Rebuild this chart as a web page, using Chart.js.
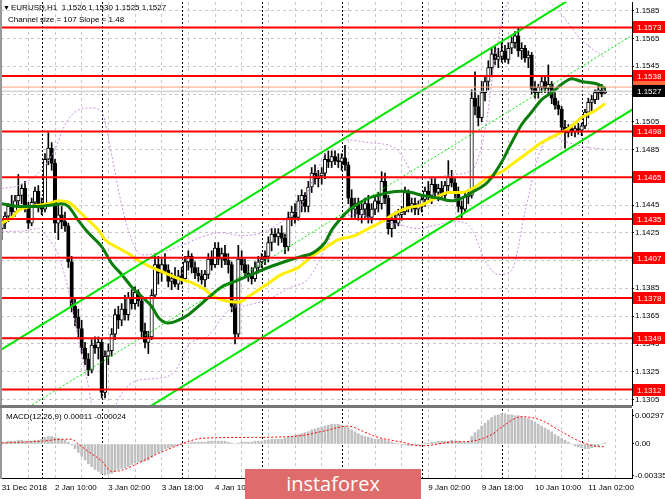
<!DOCTYPE html>
<html><head><meta charset="utf-8">
<script src="https://cdn.jsdelivr.net/npm/chart.js@4.4.1/dist/chart.umd.min.js"></script>
<style>
html,body{margin:0;padding:0;background:#fff;}
#wrap{position:relative;width:665px;height:499px;overflow:hidden;background:#fff;}
canvas{position:absolute;left:0;}
.t{position:absolute;font-family:"Liberation Sans",Arial,sans-serif;font-size:8px;line-height:10px;color:#000;white-space:pre;}
#logo{position:absolute;left:245px;top:469px;width:176px;height:30px;background:#df6b6b;color:#fff;font-family:"Open Sans",sans-serif;font-size:20px;line-height:30px;text-align:center;}
#lb{position:absolute;left:0;top:0;width:2px;height:479px;background:#999;}
#sep{position:absolute;left:0;top:405px;width:632px;height:3px;background:#777;}
</style></head><body>
<div id="wrap">
<canvas id="main" width="665" height="407" style="top:0"></canvas>
<canvas id="macd" width="665" height="92" style="top:407px"></canvas>
<div id="lb"></div>
<div id="sep"></div>
<div class="t" style="left:3px;top:3px;font-size:7px">▼</div>
<div class="t" style="left:11px;top:3px">EURUSD,H1  1.1526 1.1530 1.1525 1.1527</div>
<div class="t" style="left:8px;top:15px">Channel size = 107 Slope = 1.48</div>
<div class="t" style="left:6px;top:412px">MACD(12,26,9) 0.00011 -0.00024</div>
<div id="logo">instaforex</div>
</div>
<script>
// ---------- DATA ----------
const opens = [
1.1428,1.1432,1.1437,1.1444,1.1440,1.1448,1.1452,1.1457,1.1443,1.1432,1.1447,1.1455,
1.1446,1.1442,1.1478,1.1486,1.1475,1.1432,1.1438,1.1433,1.1430,1.1404,1.1372,1.1364,1.1356,1.1342,1.1334,1.1326,1.1344,1.1342,
1.1346,1.1310,1.1336,1.1340,1.1352,1.1366,1.1362,1.1370,1.1366,1.1378,1.1374,1.1382,1.1376,1.1354,1.1346,1.1350,1.1380,1.1402,1.1396,1.1402,1.1398,1.1390,1.1392,1.1388,
1.1394,1.1392,1.1404,1.1408,1.1400,1.1396,1.1394,1.1391,1.1395,1.1406,1.1402,1.1414,1.1406,1.1410,1.1405,1.1402,1.1372,1.1352,1.1406,1.1402,1.1396,1.1394,1.1392,1.1400,
1.1404,1.1406,1.1408,1.1418,1.1424,1.1422,1.1425,1.1421,1.1415,1.1436,1.1440,1.1436,1.1448,1.1452,1.1444,1.1458,1.1468,1.1464,1.1466,1.1468,1.1478,1.1476,1.1480,1.1477,
1.1476,1.1479,1.1474,1.1450,1.1442,1.1446,1.1438,1.1442,1.1446,1.1436,1.1442,1.1448,1.1446,1.1462,1.1450,1.1428,1.1434,1.1432,1.1438,1.1440,1.1454,1.1444,1.1446,1.1442,
1.1444,1.1449,1.1455,1.1452,1.1460,1.1454,1.1457,1.1452,1.1459,1.1465,1.1461,1.1455,1.1444,1.1442,1.1451,1.1452,1.1522,1.1516,1.1508,1.1526,1.1534,1.1544,1.1554,1.1550,
1.1552,1.1556,1.1550,1.1558,1.1562,1.1567,1.1556,1.1558,1.1551,1.1553,1.1529,1.1526,1.1530,1.1534,1.1529,1.1532,1.1522,1.1517,1.1514,1.1501,1.1497,1.1500,1.1498,1.1500,
1.1499,1.1502,1.1512,1.1519,1.1521,1.1526,1.1528,1.1526];
const highs = [
1.1434,1.1440,1.1446,1.1452,1.1452,1.1467,1.1460,1.1462,1.1447,1.1450,1.1458,1.1459,
1.1450,1.1482,1.1497,1.1490,1.1478,1.1445,1.1444,1.1440,1.1432,1.1408,1.1378,1.1370,1.1362,1.1346,1.1338,1.1348,1.1350,1.1350,
1.1348,1.1340,1.1345,1.1356,1.1370,1.1372,1.1374,1.1380,1.1382,1.1384,1.1386,1.1384,1.1378,1.1360,1.1354,1.1384,1.1410,1.1408,1.1406,1.1410,1.1402,1.1396,1.1400,1.1398,
1.1400,1.1408,1.1412,1.1410,1.1404,1.1400,1.1398,1.1398,1.1410,1.1412,1.1418,1.1418,1.1414,1.1416,1.1410,1.1404,1.1376,1.1416,1.1412,1.1406,1.1402,1.1400,1.1404,1.1408,
1.1410,1.1412,1.1422,1.1428,1.1428,1.1428,1.1430,1.1424,1.1440,1.1444,1.1446,1.1452,1.1456,1.1454,1.1462,1.1472,1.1474,1.1470,1.1472,1.1482,1.1484,1.1484,1.1484,1.1482,
1.1482,1.1488,1.1476,1.1456,1.1450,1.1450,1.1446,1.1450,1.1452,1.1446,1.1452,1.1454,1.1469,1.1468,1.1452,1.1438,1.1440,1.1442,1.1444,1.1458,1.1456,1.1450,1.1450,1.1448,
1.1452,1.1458,1.1462,1.1464,1.1464,1.1460,1.1462,1.1462,1.1477,1.1470,1.1464,1.1458,1.1448,1.1454,1.1456,1.1528,1.1541,1.1524,1.1534,1.1538,1.1549,1.1558,1.1560,1.1558,
1.1562,1.1560,1.1562,1.1566,1.1570,1.1573,1.1562,1.1560,1.1556,1.1555,1.1534,1.1532,1.1538,1.1538,1.1546,1.1534,1.1526,1.1520,1.1516,1.1506,1.1503,1.1503,1.1502,1.1504,
1.1504,1.1514,1.1522,1.1524,1.1528,1.1531,1.1532,1.1530];
const lows = [
1.1420,1.1428,1.1433,1.1436,1.1437,1.1444,1.1446,1.1440,1.1428,1.1430,1.1444,1.1440,
1.1438,1.1440,1.1474,1.1470,1.1425,1.1420,1.1428,1.1426,1.1400,1.1368,1.1358,1.1350,1.1338,1.1330,1.1322,1.1324,1.1338,1.1334,
1.1306,1.1306,1.1330,1.1336,1.1348,1.1356,1.1358,1.1362,1.1362,1.1370,1.1370,1.1372,1.1350,1.1342,1.1338,1.1348,1.1378,1.1388,1.1390,1.1396,1.1386,1.1384,1.1386,1.1384,
1.1388,1.1390,1.1398,1.1396,1.1392,1.1390,1.1388,1.1386,1.1392,1.1398,1.1400,1.1402,1.1400,1.1402,1.1396,1.1368,1.1345,1.1350,1.1398,1.1394,1.1390,1.1388,1.1390,1.1396,
1.1400,1.1402,1.1404,1.1412,1.1418,1.1416,1.1418,1.1410,1.1412,1.1430,1.1432,1.1434,1.1440,1.1440,1.1440,1.1454,1.1460,1.1458,1.1460,1.1464,1.1472,1.1472,1.1474,1.1472,
1.1470,1.1470,1.1446,1.1436,1.1436,1.1434,1.1432,1.1436,1.1432,1.1432,1.1438,1.1440,1.1442,1.1446,1.1424,1.1422,1.1428,1.1430,1.1434,1.1438,1.1440,1.1440,1.1438,1.1438,
1.1440,1.1444,1.1448,1.1446,1.1450,1.1448,1.1450,1.1448,1.1455,1.1458,1.1450,1.1440,1.1436,1.1440,1.1446,1.1450,1.1510,1.1502,1.1505,1.1520,1.1528,1.1538,1.1546,1.1544,
1.1548,1.1548,1.1547,1.1554,1.1558,1.1552,1.1550,1.1548,1.1544,1.1525,1.1522,1.1522,1.1526,1.1526,1.1524,1.1518,1.1514,1.1510,1.1498,1.1486,1.1494,1.1495,1.1494,1.1496,
1.1495,1.1500,1.1508,1.1512,1.1518,1.1521,1.1523,1.1525];
const closes = [
1.1432,1.1437,1.1444,1.1440,1.1448,1.1452,1.1457,1.1443,1.1432,1.1447,1.1455,1.1446,
1.1442,1.1478,1.1486,1.1475,1.1432,1.1438,1.1433,1.1430,1.1404,1.1372,1.1364,1.1356,1.1342,1.1334,1.1326,1.1344,1.1342,1.1346,
1.1310,1.1336,1.1340,1.1352,1.1366,1.1362,1.1370,1.1366,1.1378,1.1374,1.1382,1.1376,1.1354,1.1346,1.1350,1.1380,1.1402,1.1396,1.1402,1.1398,1.1390,1.1392,1.1388,1.1394,
1.1392,1.1404,1.1408,1.1400,1.1396,1.1394,1.1391,1.1395,1.1406,1.1402,1.1414,1.1406,1.1410,1.1405,1.1402,1.1372,1.1352,1.1406,1.1402,1.1396,1.1394,1.1392,1.1400,1.1404,
1.1406,1.1408,1.1418,1.1424,1.1422,1.1425,1.1421,1.1415,1.1436,1.1440,1.1436,1.1448,1.1452,1.1444,1.1458,1.1468,1.1464,1.1466,1.1468,1.1478,1.1476,1.1480,1.1477,1.1476,
1.1479,1.1474,1.1450,1.1442,1.1446,1.1438,1.1442,1.1446,1.1436,1.1442,1.1448,1.1446,1.1462,1.1450,1.1428,1.1434,1.1432,1.1438,1.1440,1.1454,1.1444,1.1446,1.1442,1.1444,
1.1449,1.1455,1.1452,1.1460,1.1454,1.1457,1.1452,1.1459,1.1465,1.1461,1.1455,1.1444,1.1442,1.1451,1.1452,1.1522,1.1516,1.1508,1.1526,1.1534,1.1544,1.1554,1.1550,1.1552,
1.1556,1.1550,1.1558,1.1562,1.1567,1.1556,1.1558,1.1551,1.1553,1.1529,1.1526,1.1530,1.1534,1.1529,1.1532,1.1522,1.1517,1.1514,1.1501,1.1497,1.1500,1.1498,1.1500,1.1499,
1.1502,1.1512,1.1519,1.1521,1.1526,1.1528,1.1525,1.1527];

// moving averages (sparse readings: bar index / value)
const fastMaBars = [0,5,11,15,18,20,23,26,30,33,36,39,42,45,47,50,52,56,60,66,70,75,80,86,90,93,97,99,102,104,107,110,113,116,120,123,126,131,135,138,141,146,150,153,156,159,162,165,168,171,174,179,181];
const fastMaVals = [1.1446,1.1444,1.1444,1.1445,1.1446,1.1444,1.1434,1.1425,1.1415,1.1403,1.1395,1.1386,1.1379,1.1372,1.1364,1.1360,1.1361,1.1366,1.1374,1.1386,1.1390,1.1395,1.1400,1.1405,1.1408,1.1410,1.1418,1.1427,1.1436,1.1441,1.1446,1.1450,1.1452,1.1454,1.1455,1.1454,1.1452,1.1450,1.1448,1.1450,1.1454,1.1462,1.1476,1.1490,1.1503,1.1512,1.1521,1.1526,1.1532,1.1536,1.1534,1.1532,1.1529];
const slowMaBars = [0,3,5,9,14,17,20,23,26,29,31,35,38,41,45,49,53,57,61,63,67,71,74,79,84,89,93,97,101,106,110,114,118,122,126,130,134,138,142,146,150,154,158,162,166,170,174,178,181];
const slowMaVals = [1.1432,1.1436,1.1441,1.1444,1.1446,1.1448,1.1447,1.1441,1.1434,1.1427,1.1420,1.1414,1.1410,1.1405,1.1400,1.1396,1.1392,1.1389,1.1384,1.1380,1.1376,1.1375,1.1379,1.1387,1.1395,1.1400,1.1408,1.1414,1.1420,1.1423,1.1428,1.1433,1.1439,1.1443,1.1445,1.1450,1.1454,1.1454,1.1458,1.1465,1.1469,1.1476,1.1483,1.1490,1.1495,1.1500,1.1508,1.1513,1.1518];
const upperBandBars = [0,5,11,16,19,22,27,30,33,36,39,42,48,54,60,66,72,78,84,90,94,98,103,110,118,121,124,129,135,141,145,148,151,156,162,168,174,181];
const upperBandVals = [1.1457,1.1459,1.1468,1.1485,1.1503,1.1512,1.1515,1.1512,1.1481,1.1445,1.1420,1.1409,1.1411,1.1416,1.1422,1.1425,1.1423,1.1425,1.1433,1.1445,1.1467,1.1485,1.1492,1.1490,1.1486,1.1477,1.1464,1.1464,1.1467,1.1470,1.1499,1.1550,1.1586,1.1600,1.1596,1.1582,1.1564,1.1551];
const lowerBandBars = [0,5,11,14,17,20,23,26,28,32,35,40,46,52,56,62,68,74,80,86,92,97,101,107,113,119,125,131,137,141,145,149,153,157,161,165,170,175,181];
const lowerBandVals = [1.1426,1.1426,1.1428,1.1421,1.1409,1.1384,1.1348,1.1315,1.1290,1.1287,1.1305,1.1318,1.1320,1.1325,1.1344,1.1351,1.1369,1.1373,1.1377,1.1385,1.1392,1.1413,1.1433,1.1438,1.1434,1.1431,1.1428,1.1431,1.1433,1.1428,1.1405,1.1395,1.1398,1.1440,1.1480,1.1495,1.1490,1.1487,1.1485];

// regression channel (endpoints: bar index / price)
const channelBars = [0,190];
const upperChannel = [1.1341,1.1622];
const midChannel = [1.12875,1.15685];
const lowerChannel = [1.1234,1.1515];

// horizontal levels
const levels = [1.1573,1.1538,1.1498,1.1465,1.1435,1.1407,1.1378,1.1349,1.1312];
const askPrice = 1.1530;
const bidPrice = 1.1527;

// MACD
const macdHist = [
0.0002,0.0002,0.0003,0.0003,0.0003,0.0004,0.0004,0.0003,0.0003,0.0003,0.0004,0.0004,
0.0005,0.0007,0.0008,0.0008,0.0007,0.0006,0.0005,0.0004,0.0002,
-0.0001,-0.0005,-0.0009,-0.0013,-0.0017,-0.0021,-0.0024,-0.0027,-0.0029,
-0.0032,-0.0033,-0.0032,-0.0031,-0.0029,-0.0027,-0.0026,-0.0025,-0.0024,-0.0022,
-0.0020,-0.0019,-0.0019,-0.0018,-0.0017,-0.0014,-0.0011,-0.0009,-0.0007,-0.0005,
-0.0004,-0.0003,-0.0002,-0.0001,0.0000,0.0001,0.0001,0.0002,0.0002,0.0002,
0.0002,0.0002,0.0003,0.0003,0.0003,0.0003,0.0003,0.0003,0.0002,0.0001,
0.0000,0.0001,0.0002,0.0002,0.0002,0.0002,0.0003,0.0003,0.0003,0.0004,
0.0004,0.0005,0.0005,0.0005,0.0005,0.0006,0.0007,0.0008,0.0009,0.0010,
0.0011,0.0012,0.0013,0.0015,0.0016,0.0017,0.0018,0.0019,0.0020,0.0021,0.0021,0.0021,
0.0020,0.0019,0.0017,0.0015,0.0013,0.0011,0.0009,0.0008,0.0007,0.0006,
0.0005,0.0005,0.0005,0.0004,0.0003,0.0002,0.0001,0.0000,-0.0001,-0.0001,-0.0002,-0.0002,-0.0001,-0.0001,
0.0000,0.0001,0.0001,0.0002,0.0002,0.0003,0.0003,0.0003,0.0003,0.0004,0.0003,0.0003,0.0002,0.0002,0.0003,
0.0008,0.0012,0.0015,0.0019,0.0022,0.0025,0.0028,0.0030,0.0031,0.0032,
0.0032,0.0031,0.0031,0.0030,0.0030,0.0029,0.0028,0.0027,0.0025,0.0023,
0.0021,0.0019,0.0017,0.0015,0.0013,0.0010,0.0008,0.0006,0.0004,0.0002,
0.0000,-0.0002,-0.0003,-0.0004,-0.0005,-0.0005,-0.0004,-0.0003,-0.0002,0.0000,0.00011];
const signalBars = [0,12,18,21,23,26,30,33,36,40,47,54,60,75,90,97,104,108,113,120,126,135,141,147,150,156,159,162,168,174,180,181];
const signalVals = [0.0001,0.0003,0.0005,0.0005,0.0000,-0.0008,-0.0018,-0.0029,-0.0028,-0.0022,-0.0010,0.0000,0.0006,0.0007,0.0009,0.0014,0.0019,0.0014,0.0007,0.0002,-0.0002,0.0002,0.0003,0.0010,0.0018,0.0029,0.0028,0.0025,0.0013,0.0002,-0.0003,-0.00024];

// axes
const yTicks = [1.1305,1.1325,1.1345,1.1365,1.1385,1.1405,1.1425,1.1445,1.1465,1.1485,1.1505,1.1525,1.1545,1.1565,1.1585];
const macdTicks = [0.00297,0,-0.00335];
const labelBars = [0,16,32,48,64,80,96,112,128,144,160,176];
const labelTexts = ['31 Dec 2018','2 Jan 10:00','3 Jan 02:00','3 Jan 18:00','4 Jan 10:00','7 Jan 02:00','7 Jan 18:00','8 Jan 10:00','9 Jan 02:00','9 Jan 18:00','10 Jan 10:00','11 Jan 02:00'];
const gridBars = [0,8,16,24,32,40,48,56,64,72,80,88,96,104,112,120,128,136,144,152,160,168,176,184];
const daySepBars = [12,30,54,78,102,126,150,174];

// ---------- CHARTS ----------
Chart.defaults.font.family = '"Liberation Sans", Arial, sans-serif';
Chart.defaults.font.size = 8;
Chart.defaults.color = '#000';
const X_MIN = -0.2, X_MAX = 189.1;
const pts = (bars, vals) => bars.map((b, i) => ({x: b, y: vals[i]}));

const sepPlugin = {
  id: 'daysep',
  beforeDatasetsDraw(chart) {
    const {ctx, chartArea: a, scales: {x}} = chart;
    ctx.save();
    ctx.strokeStyle = '#000'; ctx.lineWidth = 1; ctx.setLineDash([2, 2]);
    daySepBars.forEach(b => {
      const px = Math.round(x.getPixelForValue(b)) + 0.5;
      ctx.beginPath(); ctx.moveTo(px, a.top); ctx.lineTo(px, a.bottom); ctx.stroke();
    });
    ctx.restore();
  }
};
const boxPlugin = {
  id: 'boxes',
  afterDraw(chart) {
    const {ctx, chartArea: a, scales: {y}} = chart;
    ctx.save();
    ctx.font = '8px "Liberation Sans", Arial, sans-serif';
    ctx.textBaseline = 'middle';
    const x0 = a.right + 1, w = chart.width - x0;
    const draw = (v, bg, fg) => {
      const py = Math.round(y.getPixelForValue(v));
      ctx.fillStyle = bg; ctx.fillRect(x0, py - 6, w, 12);
      ctx.fillStyle = fg; ctx.fillText(v.toFixed(4), x0 + 4, py + 0.5);
    };
    levels.forEach(l => draw(l, '#ff0000', '#ffffff'));
    draw(askPrice, '#ff6a3c', '#ffffff');
    draw(bidPrice, '#000000', '#ffffff');
    ctx.restore();
  }
};

const xCommon = (showLabels) => ({
  type: 'linear', min: X_MIN, max: X_MAX, offset: false, bounds: 'data',
  afterBuildTicks: s => { s.ticks = gridBars.map(v => ({value: v})); },
  afterFit: s => { s.height = showLabels ? 21 : 0; s.paddingLeft = 0; s.paddingRight = 0; },
  ticks: {
    display: showLabels, autoSkip: false, maxRotation: 0, minRotation: 0, align: 'start', padding: 5,
    callback: v => { const k = labelBars.indexOf(v); return k >= 0 ? labelTexts[k] : ''; }
  },
  grid: {color: '#c8c8c8', lineWidth: 1, drawTicks: false, offset: false},
  border: {display: true, color: showLabels ? '#000' : '#707070', dash: [3, 3]}
});

const wickData = lows.map((l, i) => ({x: i, y: [l, highs[i]]}));
const bodyData = opens.map((o, i) => ({x: i, y: [o, closes[i]]}));
const lineDs = (data, color, width, dash, order, smooth) => ({
  type: 'line', data, borderColor: color, borderWidth: width, borderDash: dash || [],
  pointRadius: 0, fill: false, order, cubicInterpolationMode: smooth ? 'monotone' : 'default', tension: 0
});

const mainDatasets = [
  {type: 'bar', data: wickData, barThickness: 1, backgroundColor: '#000', grouped: false, order: 100},
  {type: 'bar', data: bodyData, barThickness: 3.5, grouped: false, order: 99,
   backgroundColor: bodyData.map((d, i) => closes[i] >= opens[i] ? '#ffffff' : '#000000'),
   borderColor: '#000', borderWidth: 1, borderSkipped: false},
  lineDs(pts(upperBandBars, upperBandVals), '#c890e8', 1, [2, 2], 60, true),
  lineDs(pts(lowerBandBars, lowerBandVals), '#c890e8', 1, [2, 2], 60, true),
  lineDs(pts(slowMaBars, slowMaVals), '#ffee00', 3, null, 50, true),
  lineDs(pts(fastMaBars, fastMaVals), '#0b7d0b', 3, null, 45, true),
  lineDs(pts(channelBars, upperChannel), '#00e600', 2, null, 40),
  lineDs(pts(channelBars, lowerChannel), '#00e600', 2, null, 40),
  lineDs(pts(channelBars, midChannel), '#00e600', 1, [2, 2], 40),
  lineDs([{x: X_MIN, y: bidPrice}, {x: X_MAX, y: bidPrice}], '#c0c0c0', 1, null, 35),
  lineDs([{x: X_MIN, y: askPrice}, {x: X_MAX, y: askPrice}], '#ffa080', 1, null, 34),
  ...levels.map(l => lineDs([{x: X_MIN, y: l}, {x: X_MAX, y: l}], '#ff0000', 2, null, 20))
];

new Chart(document.getElementById('main'), {
  data: {datasets: mainDatasets},
  options: {
    responsive: false, animation: false, devicePixelRatio: 1, events: [],
    layout: {autoPadding: false, padding: {left: 1, top: 2, right: 0, bottom: 2}},
    plugins: {legend: {display: false}, tooltip: {enabled: false}},
    scales: {
      x: xCommon(false),
      y: {
        type: 'linear', position: 'right', min: 1.13009, max: 1.15913,
        afterBuildTicks: s => { s.ticks = yTicks.map(v => ({value: v})); },
        afterFit: s => { s.width = 33; s.paddingTop = 0; s.paddingBottom = 0; },
        ticks: {callback: v => v.toFixed(4), padding: 1, autoSkip: false},
        grid: {color: '#c8c8c8', tickColor: '#000', tickLength: 2},
        border: {color: '#000', dash: [3, 3]}
      }
    }
  },
  plugins: [sepPlugin, boxPlugin]
});

new Chart(document.getElementById('macd'), {
  data: {datasets: [
    {type: 'bar', data: macdHist.map((v, i) => ({x: i, y: v})), barThickness: 2, backgroundColor: '#c0c0c0', grouped: false, order: 10},
    lineDs(pts(signalBars, signalVals), '#ff0000', 1, [2, 2], 5, true)
  ]},
  options: {
    responsive: false, animation: false, devicePixelRatio: 1, events: [],
    layout: {autoPadding: false, padding: {left: 1, top: 2, right: 0, bottom: 0}},
    plugins: {legend: {display: false}, tooltip: {enabled: false}},
    scales: {
      x: xCommon(true),
      y: {
        type: 'linear', position: 'right', min: -0.003606, max: 0.003712,
        afterBuildTicks: s => { s.ticks = macdTicks.map(v => ({value: v})); },
        afterFit: s => { s.width = 33; s.paddingTop = 0; s.paddingBottom = 0; },
        ticks: {callback: v => v === 0 ? '0.00' : v.toFixed(5), padding: 1, autoSkip: false},
        grid: {drawOnChartArea: false, tickColor: '#000', tickLength: 2},
        border: {color: '#000'}
      }
    }
  },
  plugins: [sepPlugin]
});
</script>
</body></html>
